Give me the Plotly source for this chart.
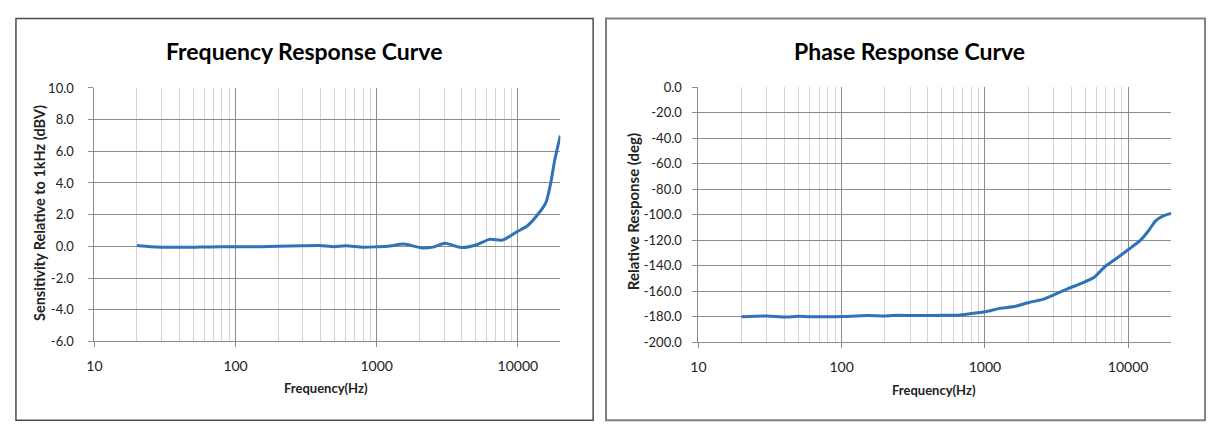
import math
import plotly.graph_objects as go

# ---------------- data ----------------
freq_mag = [20, 25, 30, 40, 50, 60, 80, 100, 150, 200, 300, 390, 500, 600, 800, 1000,
            1200, 1550, 2100, 2500, 3050, 3500, 4050, 5100, 6300, 7800, 10000, 11700,
            13700, 15800, 17000, 18300, 20000]
mag_db = [0.05, -0.02, -0.05, -0.05, -0.06, -0.04, -0.02, -0.03, -0.02, 0.0, 0.03, 0.05,
          -0.02, 0.03, -0.05, -0.03, 0.0, 0.14, -0.1, -0.05, 0.2, 0.05, -0.08, 0.1, 0.44,
          0.4, 0.95, 1.3, 1.96, 2.76, 3.9, 5.5, 7.0]

freq_ph = [20, 30, 40, 50, 60, 80, 100, 150, 200, 250, 300, 400, 500, 650, 800, 1000,
           1300, 1600, 2000, 2600, 3000, 3800, 4800, 5800, 6300, 7000, 8000, 10000, 12200,
           14000, 15500, 17600, 20000]
phase_deg = [-180, -179.4, -180.2, -179.6, -180, -180, -179.8, -179, -179.3, -178.8, -179,
             -179, -178.8, -178.8, -177.5, -176, -173.2, -172, -169, -166, -163, -158,
             -153.5, -149, -145, -140, -135.5, -127.5, -120, -112, -105, -101, -99]

x_major = [10, 100, 1000, 10000]
x_major_text = ["10", "100", "1000", "10000"]
x_minor = [20, 30, 40, 50, 60, 70, 80, 90, 200, 300, 400, 500, 600, 700, 800, 900,
           2000, 3000, 4000, 5000, 6000, 7000, 8000, 9000, 20000]

mag_ticks = [10, 8, 6, 4, 2, 0, -2, -4, -6]
mag_ticktext = ["10.0", "8.0", "6.0", "4.0", "2.0", "0.0", "-2.0", "-4.0", "-6.0"]
ph_ticks = [0, -20, -40, -60, -80, -100, -120, -140, -160, -180, -200]
ph_ticktext = ["0.0", "-20.0", "-40.0", "-60.0", "-80.0", "-100.0", "-120.0", "-140.0",
               "-160.0", "-180.0", "-200.0"]

title_left = "Frequency Response Curve"
title_right = "Phase Response Curve"
ytitle_left = "Sensitivity Relative to 1kHz (dBV)"
ytitle_right = "Relative Response (deg)"
xtitle = "Frequency(Hz)"

# ---------------- figure ----------------
W, H = 1213, 438
FONT = "Lato, Carlito, 'Liberation Sans', sans-serif"
LINE = "#2E73B8"
MAJ = "#8c8c8c"
MIN = "#d4d4d4"


def px(x):
    return x / W


def py(y):
    return 1 - y / H


fig = go.Figure()
fig.add_trace(go.Scatter(x=freq_mag, y=mag_db, mode="lines",
                         line=dict(color=LINE, width=3, shape="spline", smoothing=0.7),
                         xaxis="x", yaxis="y", showlegend=False))
fig.add_trace(go.Scatter(x=freq_ph, y=phase_deg, mode="lines",
                         line=dict(color=LINE, width=3, shape="spline", smoothing=0.7),
                         xaxis="x2", yaxis="y2", showlegend=False))


def xaxis_cfg(domain, anchor):
    return dict(type="log", domain=domain, anchor=anchor,
                range=[1, math.log10(20000)],
                tickvals=x_major, ticktext=x_major_text,
                showgrid=True, gridcolor=MAJ, gridwidth=1,
                ticks="outside", ticklen=5, tickcolor=MAJ,
                ticklabelstandoff=7,
                showline=True, linecolor=MAJ, linewidth=1,
                tickfont=dict(family=FONT, size=14, color="#222"),
                minor=dict(tickvals=x_minor, showgrid=True, gridcolor=MIN, gridwidth=1,
                           ticks=""),
                zeroline=False, fixedrange=True)


def yaxis_cfg(domain, anchor, rng, tv, tt, standoff):
    return dict(domain=domain, anchor=anchor, range=rng,
                tickvals=tv, ticktext=tt,
                showgrid=True, gridcolor=MAJ, gridwidth=1,
                ticks="outside", ticklen=5, tickcolor=MAJ,
                ticklabelstandoff=standoff,
                showline=True, linecolor=MAJ, linewidth=1,
                tickfont=dict(family=FONT, size=13, color="#222"),
                zeroline=False, fixedrange=True)


fig.update_layout(
    width=W, height=H,
    margin=dict(l=0, r=0, t=0, b=0),
    paper_bgcolor="white", plot_bgcolor="white",
    xaxis=xaxis_cfg([px(87), px(556)], "y"),
    yaxis=yaxis_cfg([py(346), py(83)], "x", [-6, 10], mag_ticks, mag_ticktext, 12),
    xaxis2=xaxis_cfg([px(695), px(1171)], "y2"),
    yaxis2=yaxis_cfg([py(347), py(82)], "x2", [-200, 0], ph_ticks, ph_ticktext, 8),
    shapes=[
        dict(type="rect", xref="paper", yref="paper", x0=px(8), x1=px(589), y0=py(428), y1=py(11),
             line=dict(color="#4d4d4d", width=1.5)),
        dict(type="rect", xref="paper", yref="paper", x0=px(602), x1=px(1205), y0=py(428), y1=py(11),
             line=dict(color="#808080", width=2)),
    ],
    annotations=[
        dict(text="<b>%s</b>" % title_left, x=px(298), y=py(45), xref="paper", yref="paper",
             showarrow=False, font=dict(family=FONT, size=23, color="black"),
             xanchor="center", yanchor="middle"),
        dict(text="<b>%s</b>" % title_right, x=px(907), y=py(45), xref="paper", yref="paper",
             showarrow=False, font=dict(family=FONT, size=23, color="black"),
             xanchor="center", yanchor="middle"),
        dict(text="<b>%s</b>" % ytitle_left, x=px(31), y=py(213), xref="paper", yref="paper",
             showarrow=False, textangle=-90, font=dict(family=FONT, size=14.5, color="#222"),
             xanchor="center", yanchor="middle"),
        dict(text="<b>%s</b>" % ytitle_right, x=px(629), y=py(211), xref="paper", yref="paper",
             showarrow=False, textangle=-90, font=dict(family=FONT, size=15, color="#222"),
             xanchor="center", yanchor="middle"),
        dict(text="<b>%s</b>" % xtitle, x=px(320), y=py(394), xref="paper", yref="paper",
             showarrow=False, font=dict(family=FONT, size=13, color="#222"),
             xanchor="center", yanchor="middle"),
        dict(text="<b>%s</b>" % xtitle, x=px(932), y=py(396), xref="paper", yref="paper",
             showarrow=False, font=dict(family=FONT, size=13, color="#222"),
             xanchor="center", yanchor="middle"),
    ],
)

post = (
    "document.documentElement.style.margin='0';"
    "document.body.style.margin='0';document.body.style.padding='0';"
    "var d=document.getElementById('{plot_id}');"
    "d.style.position='fixed';d.style.left='0px';d.style.top='0px';"
)
fig.write_html("out.html", config={"displayModeBar": False}, post_script=post)
